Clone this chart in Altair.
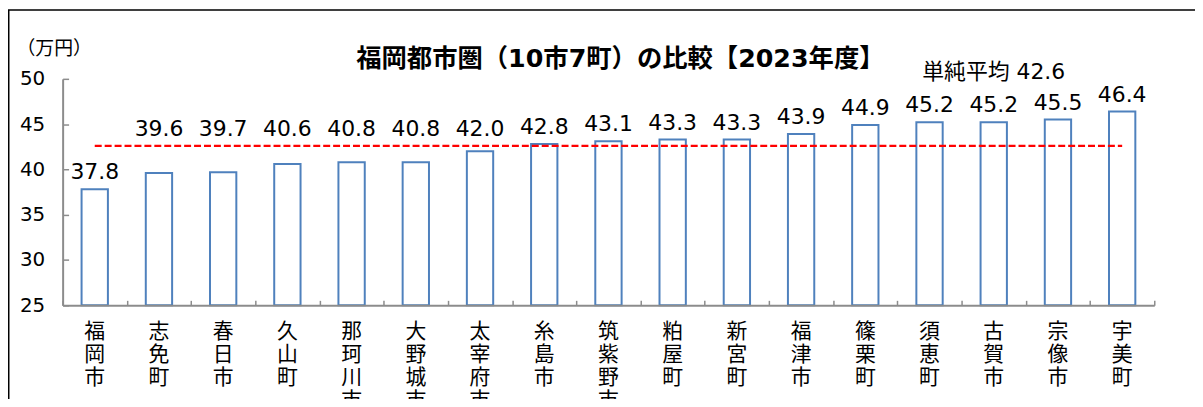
import altair as alt
import pandas as pd

# ---- data ----
categories = ["福岡市", "志免町", "春日市", "久山町", "那珂川市", "大野城市", "太宰府市", "糸島市",
              "筑紫野市", "粕屋町", "新宮町", "福津市", "篠栗町", "須恵町", "古賀市", "宗像市", "宇美町"]
values = [37.8, 39.6, 39.7, 40.6, 40.8, 40.8, 42.0, 42.8, 43.1, 43.3, 43.3, 43.9, 44.9, 45.2, 45.2, 45.5, 46.4]
average = 42.6
y_ticks = [25, 30, 35, 40, 45, 50]
title_text = "福岡都市圏（10市7町）の比較【2023年度】"
unit_text = "（万円）"
avg_label = "単純平均"
avg_label_category = "古賀市"

df = pd.DataFrame({"city": categories, "value": values, "avg": [average] * len(categories)})

FONT = "DejaVu Sans, Noto Sans CJK JP"
CJK = "Noto Sans CJK JP"
W, H = 1099, 228
AXIS_GRAY = "#8c8c8c"
BLUE = "#4F81BD"

x_scale = alt.Scale(paddingInner=0, paddingOuter=0)
y_scale = alt.Scale(domain=[25, 50], nice=False, zero=False)

base = alt.Chart(df)

bars = base.mark_bar(width=alt.RelativeBandSize(0.41), fill="white", stroke=BLUE, strokeWidth=2).encode(
    x=alt.X("city:N", sort=categories, scale=x_scale, title=None,
            axis=alt.Axis(labelExpr="split(datum.label, '')", labelAngle=0, labelFont=CJK,
                          labelFontSize=21, labelLineHeight=23.3, labelBaseline="top",
                          labelAlign="center", labelPadding=15, labelColor="black",
                          ticks=False, tickSize=0, domainColor=AXIS_GRAY, domainWidth=2,
                          labelOverlap=False, grid=False, zindex=1)),
    y=alt.Y("value:Q", scale=y_scale, title=unit_text,
            axis=alt.Axis(values=y_ticks, ticks=False, tickSize=0, labelFontSize=20, labelFont=FONT,
                          labelColor="black", labelPadding=18, domainColor=AXIS_GRAY, domainWidth=2,
                          grid=False, titleAngle=0, titleX=-47, titleY=-31, titleAlign="left",
                          titleBaseline="middle", titleFont=CJK, titleFontSize=19,
                          titleFontWeight="normal", titleColor="black", zindex=1)),
    y2=alt.datum(25),
)

# inward-pointing ticks (Excel style)
tick_layer = base.mark_bar(opacity=0).encode(
    x=alt.X("city:N", sort=categories, title=None,
            axis=alt.Axis(orient="top", offset=-H, labels=False, domain=False, ticks=True,
                          tickBand="extent", tickSize=5, tickColor=AXIS_GRAY, tickWidth=1.5,
                          grid=False)),
    y=alt.Y("value:Q", title=None,
            axis=alt.Axis(orient="right", offset=-W, labels=False, domain=False, values=y_ticks,
                          tickSize=6, tickColor=AXIS_GRAY, tickWidth=1.5, grid=False)),
)

avg_line = base.mark_line(color="#FF0000", strokeDash=[7, 3], strokeWidth=2.5).encode(
    x=alt.X("city:N", sort=categories, axis=None),
    y=alt.Y("avg:Q", axis=None),
)

value_labels = base.transform_calculate(
    label_y=f"datum.value < 39 ? datum.value : max(datum.value, {average})"
).mark_text(font=FONT, fontSize=22, dy=-10, baseline="alphabetic", color="black").encode(
    x=alt.X("city:N", sort=categories, axis=None),
    y=alt.Y("label_y:Q", axis=None),
    text=alt.Text("value:Q", format=".1f"),
)

avg_text = base.transform_filter(
    alt.datum.city == avg_label_category
).mark_text(font=FONT, fontSize=22, dy=-74, baseline="middle", color="black").encode(
    x=alt.X("city:N", sort=categories, axis=None),
    y=alt.Y("avg:Q", axis=None),
    text=alt.value(f"{avg_label}  {average}"),
)

single = alt.Data(values=[{}])
title_mark = alt.Chart(single).mark_text(
    font=FONT, fontSize=25.5, fontWeight="bold", color="black", align="center", baseline="middle"
).encode(x=alt.value(W / 2 + 12), y=alt.value(-20), text=alt.value(title_text))

frame = alt.Chart(single).mark_rect(fillOpacity=0, stroke="black", strokeWidth=1.5).encode(
    x=alt.value(-54.25), x2=alt.value(W + 80), y=alt.value(-69.25), y2=alt.value(H + 150)
)

chart = alt.layer(frame, bars, tick_layer, avg_line, value_labels, avg_text, title_mark).resolve_axis(
    x="independent", y="independent"
).properties(
    width=W, height=H,
    autosize=alt.AutoSizeParams(type="none"),
    padding={"left": 55, "top": 70, "right": 41, "bottom": 93},
    background="white",
).configure_view(strokeOpacity=0)

chart.save("out.html", embed_options={"renderer": "svg", "actions": False})
